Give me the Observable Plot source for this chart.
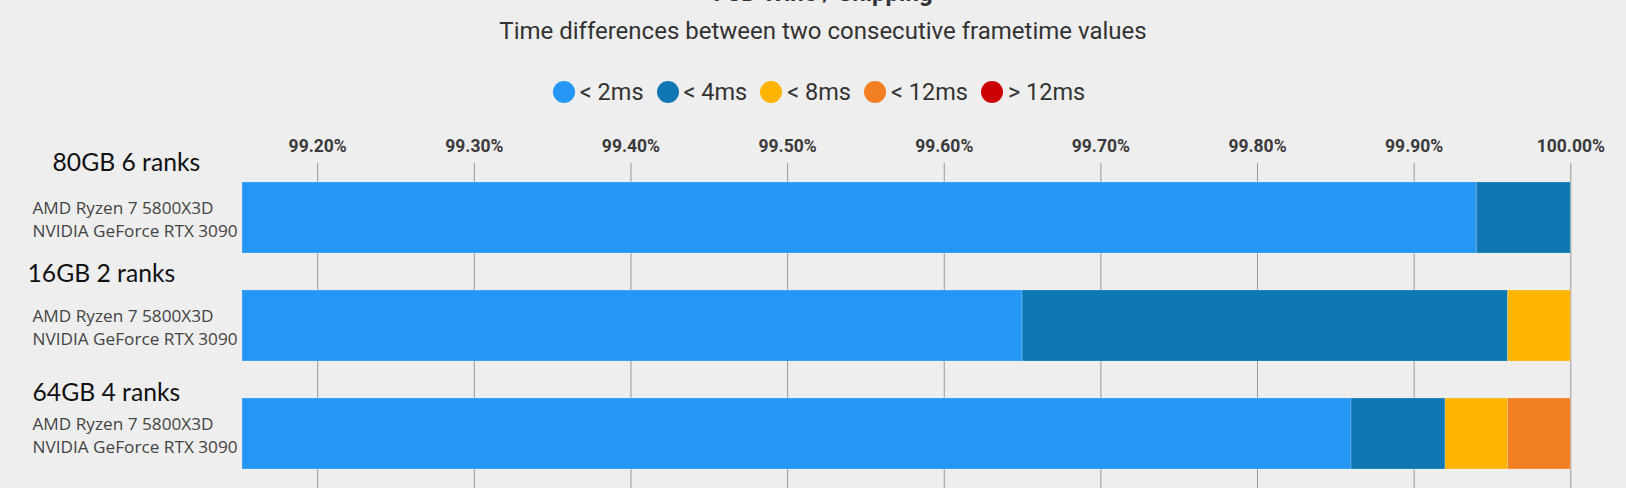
<!DOCTYPE html>
<html>
<head>
<meta charset="utf-8">
<script src="https://cdn.jsdelivr.net/npm/d3@7"></script>
<script src="https://cdn.jsdelivr.net/npm/@observablehq/plot@0.6"></script>
<style>
  html, body { margin: 0; padding: 0; background: #eeeeee; }
  #wrap { position: relative; width: 1626px; height: 488px; overflow: hidden; background: #eeeeee; }
  #title { position: absolute; top: -21px; left: 10px; width: 1626px; text-align: center;
           font: 700 24px Roboto, sans-serif; line-height: 28px; color: #333; }
  #subtitle { position: absolute; top: 17px; left: 10px; width: 1626px; text-align: center;
              font: 400 24px Roboto, sans-serif; line-height: 28px; color: #333; }
  #legend { position: absolute; top: 78px; left: 6px; width: 1626px; display: flex; justify-content: center;
            font: 400 23.5px Roboto, sans-serif; line-height: 28px; color: #333; }
  .item { display: flex; align-items: center; margin: 0 6.5px; }
  .dot { width: 22px; height: 22px; border-radius: 50%; margin-right: 5px; }
  #chart { position: absolute; top: 120px; left: 0; }
</style>
</head>
<body>
<div id="wrap">
  <div id="title"></div>
  <div id="subtitle"></div>
  <div id="legend"></div>
  <div id="chart"></div>
</div>
<script>
const titleText = "FSD Wine / Shipping";
const subtitleText = "Time differences between two consecutive frametime values";

const categories = ["80GB 6 ranks", "16GB 2 ranks", "64GB 4 ranks"];
const subLabels = ["AMD Ryzen 7 5800X3D\nNVIDIA GeForce RTX 3090",
                   "AMD Ryzen 7 5800X3D\nNVIDIA GeForce RTX 3090",
                   "AMD Ryzen 7 5800X3D\nNVIDIA GeForce RTX 3090"];
const series = ["< 2ms", "< 4ms", "< 8ms", "< 12ms", "> 12ms"];
const colors = ["#2397f3", "#0f77b4", "#ffb400", "#f27f22", "#cc0000"];
// percent of frames per bucket, per configuration
const values80GB = [99.94, 0.06, 0, 0, 0];
const values16GB = [99.65, 0.31, 0.04, 0, 0];
const values64GB = [99.86, 0.06, 0.04, 0.04, 0];
const tickValues = [99.2, 99.3, 99.4, 99.5, 99.6, 99.7, 99.8, 99.9, 100.0];
const xDomain = [99.152, 100];

document.getElementById("title").textContent = titleText;
document.getElementById("subtitle").textContent = subtitleText;
const legend = document.getElementById("legend");
series.forEach((s, i) => {
  const it = document.createElement("div"); it.className = "item";
  const dot = document.createElement("div"); dot.className = "dot"; dot.style.background = colors[i];
  const lab = document.createElement("span"); lab.textContent = s;
  it.appendChild(dot); it.appendChild(lab); legend.appendChild(it);
});

const allValues = [values80GB, values16GB, values64GB];
const table = [];
categories.forEach((c, ci) => {
  series.forEach((s, si) => {
    const v = allValues[ci][si];
    if (v > 0) table.push({category: c, series: s, value: v});
  });
});

const labelLayout = [
  {dx: -190, dy: -55},
  {dx: -215, dy: -51.5},
  {dx: -210, dy: -41}
];

const marks = [
  Plot.ruleX(tickValues, {stroke: "#999999", strokeWidth: 1}),
  Plot.barX(table, {x: "value", y: "category", fill: "series",
                    stroke: "#ffffff", strokeOpacity: 0.2, strokeWidth: 1}),
  Plot.axisX(tickValues, {anchor: "top", tickSize: 0, tickPadding: 12, label: null,
                          tickFormat: d => d.toFixed(2) + "%",
                          fontSize: 17.5, fontWeight: "bold", fill: "#3a3a3a"}),
  Plot.text(categories.map((c, i) => ({c, sub: subLabels[i]})), {
    y: "c", text: "sub", frameAnchor: "left", dx: -210, textAnchor: "start",
    lineAnchor: "middle", lineHeight: 1.33, fontSize: 17.2, fontFamily: "Open Sans", fill: "#444444"
  })
];
categories.forEach((c, i) => {
  marks.push(Plot.text([c], {
    y: d => d, text: d => d, frameAnchor: "left", textAnchor: "start",
    dx: labelLayout[i].dx, dy: labelLayout[i].dy,
    fontSize: 24.7, fontFamily: "Lato", fill: "#111111"
  }));
});

const plot = Plot.plot({
  width: 1626, height: 368,
  marginTop: 43, marginBottom: 0, marginLeft: 242, marginRight: 55.7,
  style: {background: "transparent", fontFamily: "Roboto, sans-serif", overflow: "visible"},
  x: {domain: xDomain, clamp: true, axis: null},
  y: {domain: categories, axis: null, paddingInner: 0.34, paddingOuter: 0.17},
  color: {domain: series, range: colors},
  marks
});
document.getElementById("chart").appendChild(plot);
</script>
</body>
</html>
